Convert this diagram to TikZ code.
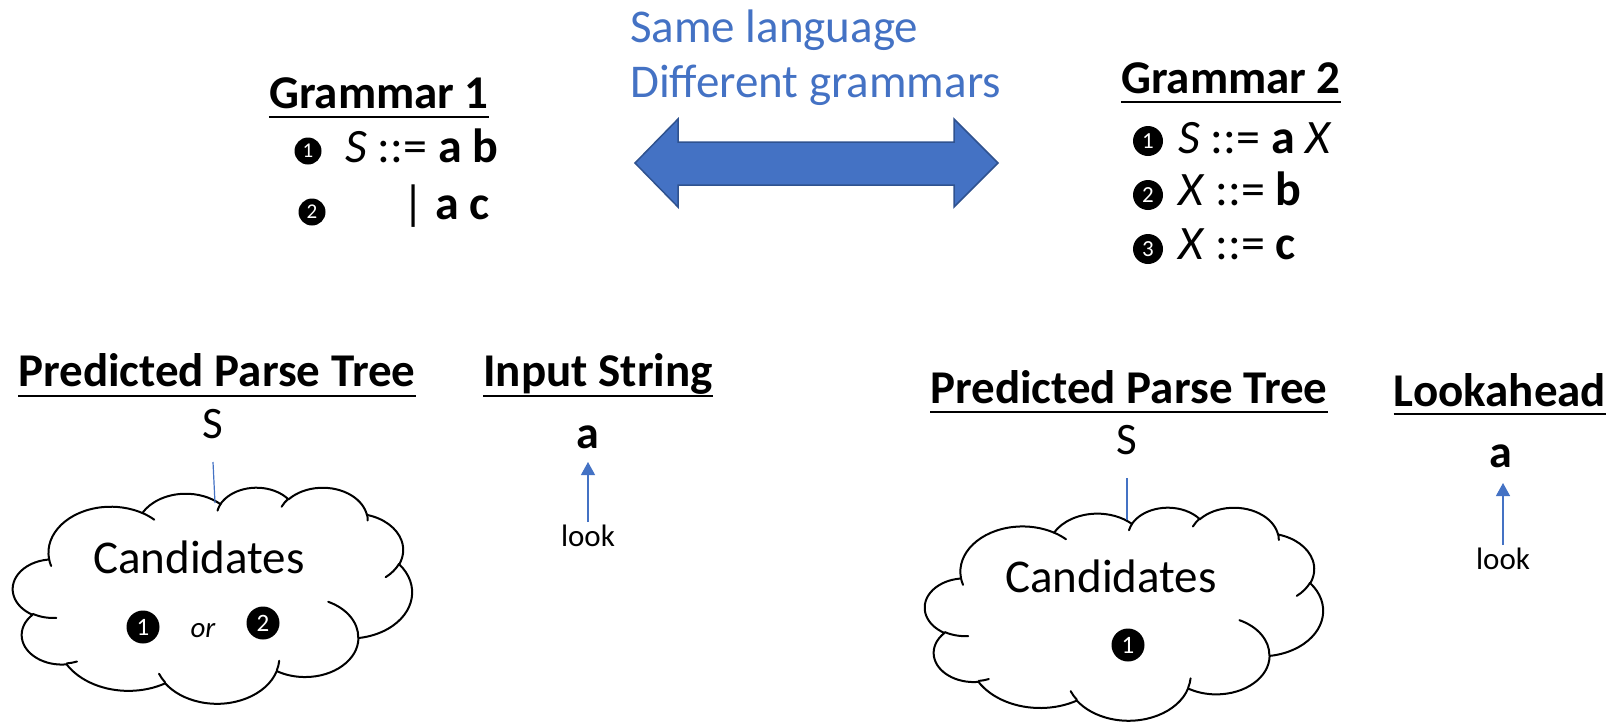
\documentclass[tikz,border=0pt]{standalone}
\usepackage{fontspec}
\setmainfont{Carlito}
\usetikzlibrary{arrows.meta}

\definecolor{officeblue}{HTML}{4472C4}
\definecolor{arrowedge}{HTML}{2F528F}

\newcommand\fs[1]{\fontsize{#1}{#1}\selectfont}

% Elliptical arc given with visual angles (start, sweep), converted to the
% parametric angles that TikZ expects.
\newcommand\cloudarc[4]{%
  arc[x radius=#1, y radius=#2,
      start angle={atan2((#1)*sin(#3),(#2)*cos(#3))},
      delta angle={atan2((#1)*sin((#3)+(#4)),(#2)*cos((#3)+(#4)))-atan2((#1)*sin(#3),(#2)*cos(#3))
        +360*round(((#4)-atan2((#1)*sin((#3)+(#4)),(#2)*cos((#3)+(#4)))+atan2((#1)*sin(#3),(#2)*cos(#3)))/360)}]}

% Cloud outline on a 4320 x 4320 grid
\newcommand\cloudoutline{%
  (390,1437)
  \cloudarc{675.3}{919.0}{-190.4875}{123.7805}
  \cloudarc{533.3}{726.7}{-144.1024}{89.9452}
  \cloudarc{436.5}{594.5}{-145.8079}{99.7230}
  \cloudarc{485.7}{659.5}{-130.9861}{117.2417}
  \cloudarc{533.3}{727.3}{-78.7089}{109.0269}
  \cloudarc{677.5}{922.0}{-46.2673}{130.2690}
  \cloudarc{578.5}{786.7}{0.6250}{114.0333}
  \cloudarc{675.2}{921.5}{22.4516}{115.1726}
  \cloudarc{772.0}{1054.3}{66.2426}{75.7110}
  \cloudarc{436.0}{591.8}{-274.9421}{146.7356}
  \cloudarc{434.5}{594.5}{-246.8285}{152.5189}
  -- cycle}

% Small inner strokes where the puffs overlap
\newcommand\cloudcreases{%
  (469.3,2617.7) \cloudarc{434.5}{594.5}{86.7420}{26.4295}
  (692.8,3489.9) \cloudarc{436.0}{591.8}{73.6105}{11.4475}
  (1647.8,3909.0) \cloudarc{675.2}{921.5}{137.6242}{14.0811}
  (2882.7,3475.1) \cloudarc{675.2}{921.5}{6.4533}{15.9984}
  (3412.9,2295.4) \cloudarc{578.5}{786.7}{-70.2924}{70.9174}
  (4179.8,1535.4) \cloudarc{533.3}{727.3}{30.3180}{27.7515}
  (3832.4,542.6) \cloudarc{485.7}{659.5}{-13.7443}{14.8589}
  (2907.8,395.2) \cloudarc{485.7}{659.5}{-149.1815}{18.1954}
  (2214.1,472.0) \cloudarc{436.5}{594.5}{-163.4943}{17.6864}
  (1400.0,519.2) \cloudarc{675.3}{919.0}{-66.7070}{12.3194}
  (412.7,1578.9) \cloudarc{675.3}{919.0}{157.6544}{11.8582}}

% Numbered black disc: name, centre, radius, digit size, digit
\newcommand\numdisc[5]{%
  \fill[black] (#2) circle[radius=#3];
  \node[text=white, font=\fs{#4}] (#1) at (#2) {#5};}

\begin{document}
\begin{tikzpicture}[x=1pt, y=-1pt,
  every node/.style={inner sep=0pt},
  headtxt/.style={anchor=base, font=\fs{47}\bfseries},
  uline/.style={line width=2.5pt},
  ruletxt/.style={anchor=base west, font=\fs{48}},
  bluetxt/.style={anchor=base west, text=officeblue, font=\fs{47}},
  conn/.style={draw=officeblue, line width=1.2pt},
  lookarrow/.style={conn, -{Triangle[width=14pt,length=13pt]}},
  cloudline/.style={draw=black, fill=white, line width=2pt, line join=round},
  creaseline/.style={draw=black, line width=2pt, line cap=round},
  plaintxt/.style={anchor=base, font=\fs{#1}},
  boldtxt/.style={anchor=base, font=\fs{#1}\bfseries},
]
\useasboundingbox (0,0) rectangle (1615,721);

% caption between the two grammars
\node[bluetxt] (same) at (630,42) {Same language};
\node[bluetxt] (diff) at (630,97) {Different grammars};

% double-headed arrow
\filldraw[fill=officeblue, draw=arrowedge, line width=1.5pt, line join=miter]
  (635,163) -- (678,119) -- (678,142) -- (954,142) -- (954,119) -- (998,163)
  -- (954,207) -- (954,185) -- (678,185) -- (678,207) -- cycle;

% Grammar 1
\node[headtxt] (g1) at (379,108) {Grammar 1};
\draw[uline] ([yshift=-9pt]g1.base west) -- ([yshift=-9pt]g1.base east);
\numdisc{g1n1}{308,151}{13.5}{21}{1}
\node[ruletxt] (g1r1) at (345,162) {\textit{S} ::= \textbf{a b}};
\numdisc{g1n2}{312,212}{13.5}{21}{2}
\node[ruletxt] (g1r2) at (402,219) {| \textbf{a c}};

% Grammar 2
\node[headtxt] (g2) at (1231,93) {Grammar 2};
\draw[uline] ([yshift=-9pt]g2.base west) -- ([yshift=-9pt]g2.base east);
\numdisc{g2n1}{1148,141}{15}{23}{1}
\node[ruletxt] (g2r1) at (1178,153) {\textit{S} ::= \textbf{a} \textit{X}};
\numdisc{g2n2}{1148,195}{15}{23}{2}
\node[ruletxt] (g2r2) at (1178,205) {\textit{X} ::= \textbf{b}};
\numdisc{g2n3}{1148,249}{15}{23}{3}
\node[ruletxt] (g2r3) at (1178,259) {\textit{X} ::= \textbf{c}};

% ---- left parser state ----
\node[headtxt] (ppt1) at (217,386) {Predicted Parse Tree};
\draw[uline] ([yshift=-10pt]ppt1.base west) -- ([yshift=-10pt]ppt1.base east);
\node[plaintxt=45] (s1) at (213,438) {S};
\begin{scope}[shift={(13,487)}, x=0.092361pt, y=-0.05pt]
  \path[cloudline] \cloudoutline;
  \path[creaseline] \cloudcreases;
\end{scope}
\coordinate (c1top) at (215,503);
\draw[conn] ([yshift=-24pt]s1.base) -- (c1top);
\node[plaintxt=47] (cand1) at (199,573) {Candidates};
\numdisc{c1n1}{143,627}{16.5}{25}{1}
\node[anchor=base, font=\fs{29}\itshape] (or1) at (203,637) {or};
\numdisc{c1n2}{263,623}{16.5}{25}{2}

\node[headtxt] (in1) at (598,386) {Input String};
\draw[uline] ([yshift=-10pt]in1.base west) -- ([yshift=-10pt]in1.base east);
\node[boldtxt=46] (a1) at (588,448) {a};
\node[plaintxt=31] (look1) at (588,546) {look};
\draw[lookarrow] ([yshift=24pt]look1.base) -- ([yshift=-14pt]a1.base);

% ---- right parser state ----
\node[headtxt] (ppt2) at (1129,403) {Predicted Parse Tree};
\draw[uline] ([yshift=-9pt]ppt2.base west) -- ([yshift=-9pt]ppt2.base east);
\node[plaintxt=45] (s2) at (1127,454) {S};
\begin{scope}[shift={(925,507)}, x=0.092130pt, y=-0.049306pt]
  \path[cloudline] \cloudoutline;
  \path[creaseline] \cloudcreases;
\end{scope}
\coordinate (c2top) at (1127,520);
\draw[conn] ([yshift=-24pt]s2.base) -- (c2top);
\node[plaintxt=47] (cand2) at (1111,592) {Candidates};
\numdisc{c2n1}{1128,645}{16.5}{25}{1}

\node[headtxt] (la) at (1500,406) {Lookahead};
\draw[uline] ([yshift=-8pt]la.base west) -- ([yshift=-8pt]la.base east);
\node[boldtxt=46] (a2) at (1501,467) {a};
\node[plaintxt=31] (look2) at (1503,569) {look};
\draw[lookarrow] ([yshift=24pt]look2.base) -- ([yshift=-16pt]look2.base |- a2.base);
\end{tikzpicture}
\end{document}
